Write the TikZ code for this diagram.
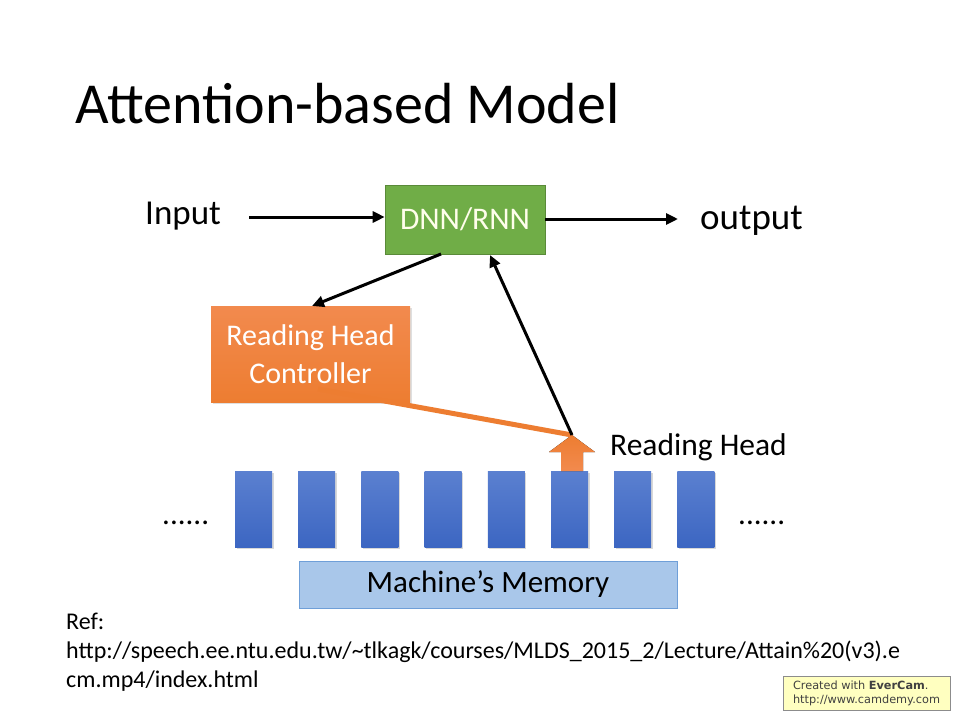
\documentclass[tikz,border=0pt]{standalone}
\usepackage{fontspec}
\setmainfont{Carlito}
\newfontfamily\evfont{DejaVu Sans}
\usetikzlibrary{arrows.meta,shadows}
\definecolor{dnngreen}{HTML}{70AD47}
\definecolor{ctrlorange}{HTML}{ED7D31}
\definecolor{ctrltop}{HTML}{F28A4E}
\definecolor{memtop}{HTML}{5B80D0}
\definecolor{membot}{HTML}{3C66C2}
\definecolor{barfill}{HTML}{A9C7EA}
\definecolor{barborder}{HTML}{6F9FD8}
\definecolor{evyellow}{HTML}{FFFFC0}
\tikzset{
  txt/.style={inner sep=0pt, font=\fontsize{31}{38}\selectfont},
  reftxt/.style={anchor=base west, inner sep=0pt, font=\fontsize{24}{29}\selectfont},
  conn/.style={line width=3pt, -{Triangle[length=12pt,width=11pt]}},
  dnnbox/.style={draw=dnngreen!80!black, line width=0.6pt, fill=dnngreen, text=white!92!yellow, minimum width=160pt, minimum height=69pt, inner sep=0pt, font=\fontsize{31.5}{36}\selectfont},
  ctrlbox/.style={top color=ctrltop, bottom color=ctrlorange, draw=none, minimum width=199pt, minimum height=96pt, inner sep=0pt, text=white, align=center, font=\fontsize{30}{38}\selectfont, drop shadow={shadow xshift=2pt, shadow yshift=-2pt, opacity=0.25}},
  cell/.style={top color=memtop, bottom color=membot, draw=none, minimum width=37pt, minimum height=76pt, inner sep=0pt, drop shadow={shadow xshift=1.5pt, shadow yshift=-1.5pt, opacity=0.3}},
  membar/.style={fill=barfill, draw=barborder, line width=0.8pt, minimum width=378pt, minimum height=47pt, inner sep=0pt, font=\fontsize{31}{36}\selectfont},
}
\begin{document}
\begin{tikzpicture}[x=1pt,y=-1pt]
\useasboundingbox[fill=white] (0,0) rectangle (960,720);
% title
\node[anchor=base west, inner sep=0pt, font=\fontsize{58}{62}\selectfont] (title) at (75,123) {Attention-based Model};
% top row
\node[txt, anchor=west, font=\fontsize{35}{40}\selectfont] (input) at (145,216) {Input};
\node[dnnbox] (dnn) at (465,219.5) {DNN/RNN};
\node[txt, anchor=west, font=\fontsize{37}{42}\selectfont] (output) at (700,221) {output};
\coordinate (inA) at (249,217);
\coordinate (outB) at (678,219);
\draw[conn] (inA) -- (inA -| dnn.west);
\draw[conn] (outB -| dnn.east) -- (outB);
% controller
\node[ctrlbox] (ctrl) at (310.5,354) {Reading Head\\Controller};
\coordinate (dnnL) at (441,254);
\coordinate (ctrlT) at (312,306);
\draw[conn] (dnnL) -- (ctrlT);
% memory cells
\foreach \i in {0,...,7} {
  \node[cell] (c\i) at (253.5+63.2*\i,509) {};
}
% reading head arrow (block)
\coordinate (rh) at (572,435);
\fill[top color=ctrlorange, bottom color=ctrltop] (561,471) -- (561,452) -- (549,452) -- (572,435) -- (595,452) -- (583,452) -- (583,471) -- cycle;
\coordinate (ctrlS) at (318,389);
\draw[ctrlorange, line width=5pt] (ctrlS) -- (rh);
\coordinate (dnnR) at (490,255);
\draw[conn] (rh) -- (dnnR);
\node[txt, anchor=west, font=\fontsize{31.5}{38}\selectfont] (rhlabel) at (610,447) {Reading Head};
% dots
\node[txt, anchor=base west] (dl) at (162,524) {......};
\node[txt, anchor=base west] (dr) at (738,524) {......};
% memory bar
\node[membar] (mem) at (488,584.5) {Machine’s Memory};
% ref
\node[reftxt] (ref1) at (66,629) {Ref:};
\node[reftxt] (ref2) at (66,658) {http://speech.ee.ntu.edu.tw/\textasciitilde tlkagk/courses/MLDS\_2015\_2/Lecture/Attain\%20(v3).e};
\node[reftxt] (ref3) at (66,687) {cm.mp4/index.html};
% evercam
\node[fill=evyellow, draw=black!45, line width=0.6pt, minimum width=167pt, minimum height=34pt, inner sep=0pt, align=left, font=\evfont\fontsize{11.3}{14}\selectfont, text=black!75] (ev) at (866.5,693) {Created with \textbf{EverCam}.\\http://www.camdemy.com};
\end{tikzpicture}
\end{document}
